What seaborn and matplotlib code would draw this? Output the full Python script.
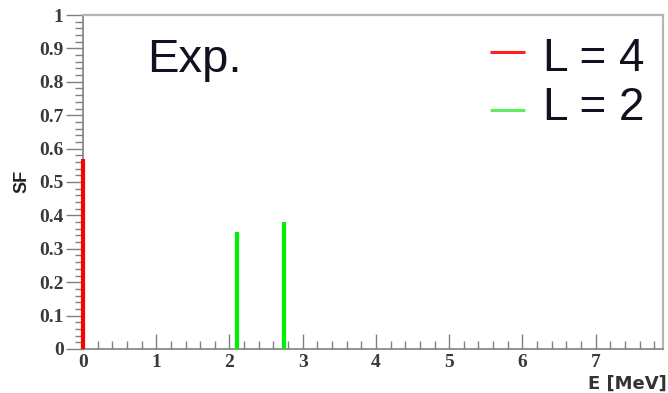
import matplotlib
matplotlib.use("Agg")
import matplotlib.pyplot as plt
from matplotlib.ticker import MultipleLocator
import seaborn as sns
import pandas as pd

# Spectroscopic factors of the observed levels
energies = [0.0, 2.10, 2.75]          # excitation energy [MeV]
sf_values = [0.57, 0.35, 0.38]        # spectroscopic factor
l_values = [4, 2, 2]                  # orbital angular momentum transfer

legend_labels = ["L = 4", "L = 2"]
legend_l = [4, 2]
l_colors = {4: "#ff0000", 2: "#00f000"}
key_colors = {4: "#ff2020", 2: "#60ee60"}

sns.set_style("ticks")

# each level is drawn as a vertical stick from 0 up to its SF value
rows = []
for i, (e, s, l) in enumerate(zip(energies, sf_values, l_values)):
    rows.append({"E": e, "SF": 0.0, "L": l, "level": i})
    rows.append({"E": e, "SF": s, "L": l, "level": i})
df = pd.DataFrame(rows)

fig = plt.figure(figsize=(6.68, 3.93), dpi=100)
ax = fig.add_axes([0.1243, 0.112, 0.8682, 0.8498])

sns.lineplot(data=df, x="E", y="SF", hue="L", units="level", estimator=None,
             sort=False, palette=l_colors, linewidth=3.0, legend=False, ax=ax)
for ln in ax.lines:
    ln.set_clip_on(False)
    ln.set_solid_capstyle("butt")
    ln.set_zorder(5)

ax.set_xlim(0, 7.92)
ax.set_ylim(0, 1)

tick_font = {"family": "Liberation Serif", "size": 14, "weight": "bold"}
ax.set_xticks(list(range(8)))
ax.set_xticklabels([str(v) for v in range(8)], fontdict=tick_font, color="#3a3a3a")
yt = [round(0.1 * k, 1) for k in range(11)]
ax.set_yticks(yt)
ax.set_yticklabels(["0"] + [f"{v:.1f}" for v in yt[1:-1]] + ["1"],
                   fontdict=tick_font, color="#3a3a3a")
ax.xaxis.set_minor_locator(MultipleLocator(0.2))
ax.yaxis.set_minor_locator(MultipleLocator(0.02))

ax.tick_params(axis="x", which="major", direction="in", length=11, width=1,
               color="#808080", pad=3.5, bottom=True, top=False)
ax.tick_params(axis="x", which="minor", direction="in", length=6, width=1,
               color="#808080", bottom=True, top=False)
ax.tick_params(axis="y", which="major", direction="out", length=12, width=1,
               color="#808080", pad=2, left=True, right=False)
ax.tick_params(axis="y", which="minor", direction="out", length=6, width=1,
               color="#808080", left=True, right=False)

for side in ["left", "bottom"]:
    ax.spines[side].set_color("#808080")
    ax.spines[side].set_linewidth(1.2)
for side in ["top", "right"]:
    ax.spines[side].set_visible(True)
    ax.spines[side].set_color("#b5b5b5")
    ax.spines[side].set_linewidth(1.6)

ax.set_xlabel("")
ax.set_ylabel("")
fig.text(21.5 / 668, 1 - 181 / 393, "SF", rotation=90, ha="center", va="center",
         family="Liberation Sans", weight="bold", fontsize=13, color="#222222")
fig.text(667 / 668, 1 - 384 / 393, "E [MeV]", ha="right", va="center",
         family="DejaVu Sans", weight="bold", fontsize=13, color="#333333")

ax.text(0.110, 0.829, "Exp.", transform=ax.transAxes, ha="left", va="baseline",
        family="Liberation Sans", fontsize=34, color="#111122")

# key: short coloured line followed by its label
key_y_line = [0.890, 0.716]
key_y_text = [0.832, 0.686]
for l, lab, yl, yt_ in zip(legend_l, legend_labels, key_y_line, key_y_text):
    ax.plot([0.702, 0.762], [yl, yl], transform=ax.transAxes,
            color=key_colors[l], linewidth=2.2, solid_capstyle="butt")
    ax.text(0.793, yt_, lab, transform=ax.transAxes, ha="left", va="baseline",
            family="Liberation Sans", fontsize=33, color="#111122")

fig.savefig("out.png", dpi=100)
